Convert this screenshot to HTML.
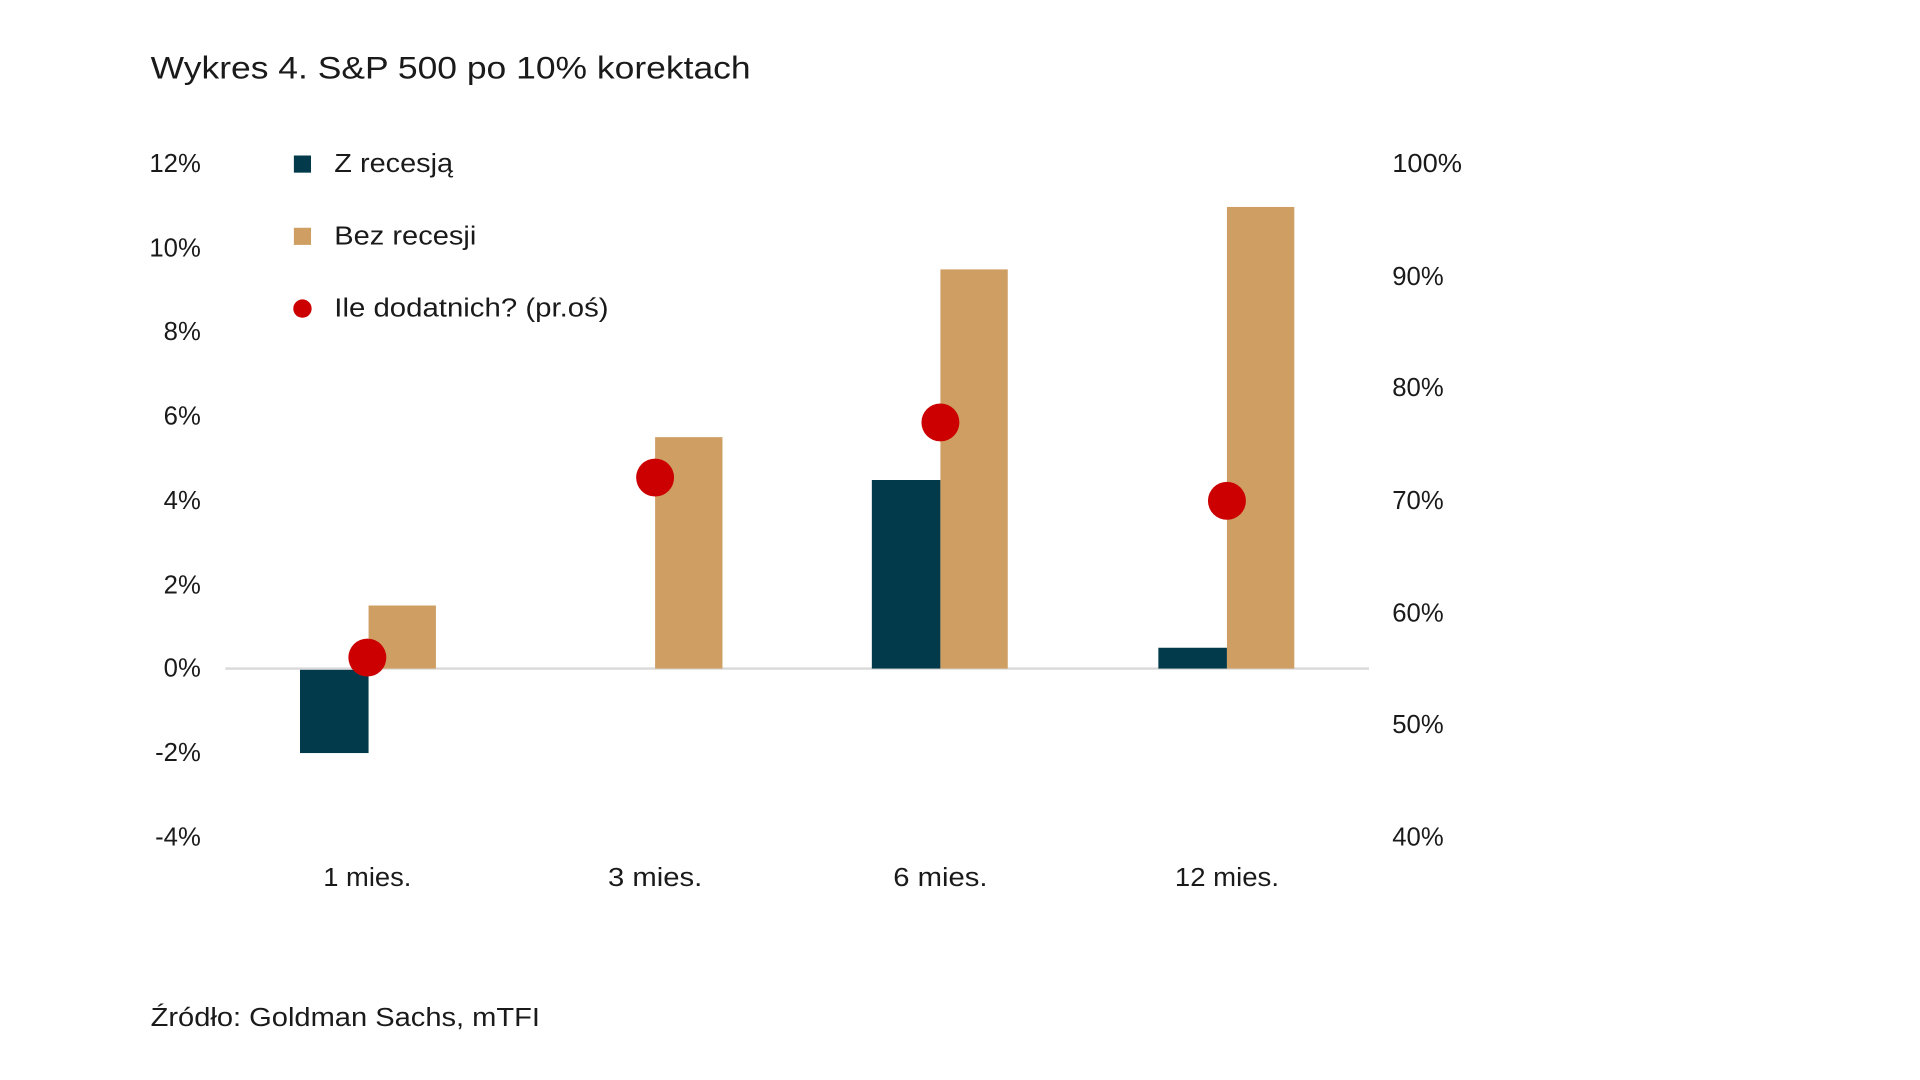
<!DOCTYPE html>
<html><head><meta charset="utf-8"><style>
html,body{margin:0;padding:0;background:#fff;}
svg{display:block;}
text{font-family:"Liberation Sans",sans-serif;fill:#1a1a1a;}
</style></head><body>
<svg width="1920" height="1080" viewBox="0 0 1568 882" preserveAspectRatio="none" xmlns="http://www.w3.org/2000/svg">
<text x="123" y="64" font-size="26" textLength="490" lengthAdjust="spacingAndGlyphs">Wykres 4. S&amp;P 500 po 10% korektach</text>
<g font-size="21" text-anchor="end" dominant-baseline="middle">
<text x="164" y="135">12%</text><text x="164" y="204">10%</text><text x="164" y="272">8%</text>
<text x="164" y="341">6%</text><text x="164" y="410">4%</text><text x="164" y="479">2%</text>
<text x="164" y="547">0%</text><text x="164" y="616">-2%</text><text x="164" y="685">-4%</text>
</g>
<g font-size="21" dominant-baseline="middle">
<text x="1137" y="135" textLength="57" lengthAdjust="spacingAndGlyphs">100%</text><text x="1137" y="227">90%</text><text x="1137" y="318">80%</text>
<text x="1137" y="410">70%</text><text x="1137" y="502">60%</text><text x="1137" y="593">50%</text>
<text x="1137" y="685">40%</text>
</g>
<line x1="184" y1="546" x2="1118" y2="546" stroke="#d9d9d9" stroke-width="2"/>
<g fill="#023a4b">
<rect x="245" y="547" width="56" height="68"/>
<rect x="712" y="392" width="56" height="154"/>
<rect x="946" y="529" width="56" height="17"/>
</g>
<g fill="#cf9e63">
<rect x="301" y="494.5" width="55" height="51.5"/>
<rect x="535" y="357" width="55" height="189"/>
<rect x="768" y="220" width="55" height="326"/>
<rect x="1002" y="169" width="55" height="377"/>
</g>
<g fill="#cc0000">
<circle cx="300" cy="537" r="15.5"/><circle cx="535" cy="390" r="15.5"/>
<circle cx="768" cy="345" r="15.5"/><circle cx="1002" cy="409" r="15.5"/>
</g>
<g font-size="21" dominant-baseline="middle">
<rect x="240" y="127" width="14" height="14" fill="#023a4b"/>
<text x="273" y="135" textLength="97" lengthAdjust="spacingAndGlyphs">Z recesją</text>
<rect x="240" y="186" width="14" height="14" fill="#cf9e63"/>
<text x="273" y="194" textLength="116" lengthAdjust="spacingAndGlyphs">Bez recesji</text>
<circle cx="247" cy="252" r="7.5" fill="#cc0000"/>
<text x="273" y="253" textLength="224" lengthAdjust="spacingAndGlyphs">Ile dodatnich? (pr.oś)</text>
</g>
<g font-size="21" text-anchor="middle" dominant-baseline="middle">
<text x="300" y="718" textLength="72" lengthAdjust="spacingAndGlyphs">1 mies.</text><text x="535" y="718" textLength="77" lengthAdjust="spacingAndGlyphs">3 mies.</text>
<text x="768" y="718" textLength="77" lengthAdjust="spacingAndGlyphs">6 mies.</text><text x="1002" y="718" textLength="85" lengthAdjust="spacingAndGlyphs">12 mies.</text>
</g>
<text x="123" y="838" font-size="21" textLength="318" lengthAdjust="spacingAndGlyphs">Źródło: Goldman Sachs, mTFI</text>
</svg>
</body></html>
